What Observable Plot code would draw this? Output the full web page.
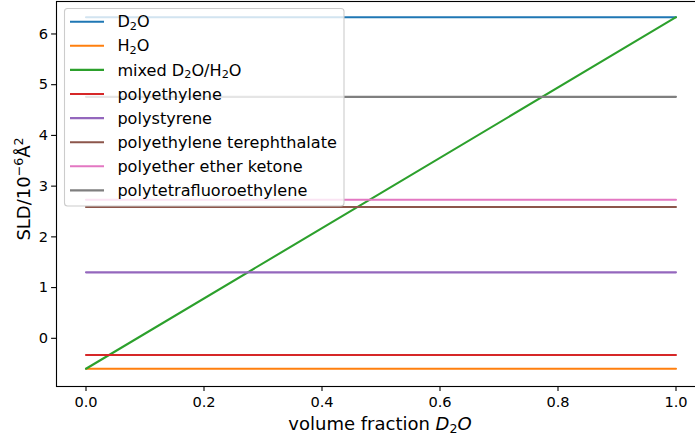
<!DOCTYPE html>
<html><head><meta charset="utf-8">
<script src="https://cdn.jsdelivr.net/npm/d3@7"></script>
<script src="https://cdn.jsdelivr.net/npm/@observablehq/plot@0.6"></script>
<style>
html,body{margin:0;padding:0;background:#fff;overflow:hidden}
#chart{width:695px;height:440px;overflow:hidden}
</style>
</head><body><div id="chart"></div>
<script>
// ---- data ----
const seriesNames = ["D₂O","H₂O","mixed D₂O/H₂O","polyethylene","polystyrene","polyethylene terephthalate","polyether ether ketone","polytetrafluoroethylene"];
const seriesColors = ["#1f77b4","#ff7f0e","#2ca02c","#d62728","#9467bd","#8c564b","#e377c2","#7f7f7f"];
const fractionD2O = [0, 1];
const sldD2O   = [6.33, 6.33];
const sldH2O   = [-0.60, -0.60];
const sldMixed = [-0.60, 6.33];
const sldPE    = [-0.33, -0.33];
const sldPS    = [1.30, 1.30];
const sldPET   = [2.59, 2.59];
const sldPEEK  = [2.73, 2.73];
const sldPTFE  = [4.76, 4.76];
const xTicks = [0, 0.2, 0.4, 0.6, 0.8, 1.0];
const yTicks = [0, 1, 2, 3, 4, 5, 6];
const xLabel = "volume fraction ";
const yLabel = "SLD/10";

const seriesValues = [sldD2O, sldH2O, sldMixed, sldPE, sldPS, sldPET, sldPEEK, sldPTFE];
const rows = [];
seriesNames.forEach((name, i) => {
  fractionD2O.forEach((f, j) => rows.push({series: name, x: f, y: seriesValues[i][j]}));
});

const FONT = "DejaVu Sans";
const TICK_FS = 14.6, LEG_FS = 16.1, LAB_FS = 18;
const plot = Plot.plot({
  width: 695, height: 440,
  marginLeft: 56, marginRight: -10, marginTop: 1, marginBottom: 54,
  style: {fontFamily: FONT, fontSize: TICK_FS + "px", color: "#000", background: "#fff", overflow: "hidden"},
  x: {domain: [-0.05, 1.05]},
  y: {domain: [-0.95, 6.64]},
  color: {domain: seriesNames, range: seriesColors},
  marks: [
    Plot.line(rows, {x: "x", y: "y", z: "series", stroke: "series", strokeWidth: 2.08}),
    Plot.axisX({ticks: xTicks, tickFormat: d3.format(".1f"), label: null, tickSize: 4.9, tickPadding: 5.4, fontSize: TICK_FS, strokeWidth: 1.1}),
    Plot.axisY({ticks: yTicks, tickFormat: d3.format("d"), label: null, tickSize: 4.9, tickPadding: 3.5, fontSize: TICK_FS, strokeWidth: 1.1}),
    Plot.frame({stroke: "#000", strokeWidth: 1.11})
  ]
});
document.getElementById("chart").appendChild(plot);

const svg = d3.select(plot);
svg.selectAll("text").attr("font-family", FONT);

const SUB_FS = LEG_FS * 0.7;
// rich text helper: "₂" -> subscript 2
function rich(textSel, str) {
  let shifted = 0;
  for (const ch of str) {
    if (ch === "₂") {
      textSel.append("tspan").attr("font-size", SUB_FS).attr("dy", 2.6).text("2");
      shifted = 2.6;
    } else {
      const t = textSel.append("tspan").text(ch);
      if (shifted) { t.attr("dy", -shifted); shifted = 0; }
    }
  }
}

// legend
const lg = svg.append("g").attr("font-family", FONT).attr("font-size", LEG_FS).attr("text-anchor", "start");
lg.append("rect").attr("x", 64.5).attr("y", 8.5).attr("width", 279.5).attr("height", 197.5)
  .attr("rx", 3).attr("fill", "#fff").attr("fill-opacity", 0.8).attr("stroke", "#cccccc").attr("stroke-width", 1.1);
seriesNames.forEach((name, i) => {
  const cy = 21.7 + i * 24.1;
  lg.append("line").attr("x1", 70).attr("x2", 104).attr("y1", cy).attr("y2", cy)
    .attr("stroke", seriesColors[i]).attr("stroke-width", 2.08);
  const t = lg.append("text").attr("x", 117.4).attr("y", cy + 5.6).attr("fill", "#000")
    .attr("text-anchor", "start").attr("font-size", LEG_FS);
  rich(t, name);
});

// x label
const xl = svg.append("text").attr("x", 380).attr("y", 430).attr("text-anchor", "middle")
  .attr("font-family", FONT).attr("font-size", LAB_FS).attr("fill", "#000");
xl.append("tspan").text(xLabel);
xl.append("tspan").attr("font-style", "italic").text("D");
xl.append("tspan").attr("font-size", LAB_FS * 0.7).attr("dy", 2.8).text("2");
xl.append("tspan").attr("font-style", "italic").attr("dy", -2.8).text("O");

// y label
const yl = svg.append("text").attr("transform", "translate(30,189) rotate(-90)").attr("text-anchor", "middle")
  .attr("font-family", FONT).attr("font-size", LAB_FS).attr("fill", "#000");
yl.append("tspan").text(yLabel);
yl.append("tspan").attr("font-size", LAB_FS * 0.7).attr("dy", -7.5).text("−6");
yl.append("tspan").attr("dy", 7.5).text("Å");
yl.append("tspan").attr("font-size", LAB_FS * 0.7).attr("dy", -7.5).text("2");
</script>
</body></html>
